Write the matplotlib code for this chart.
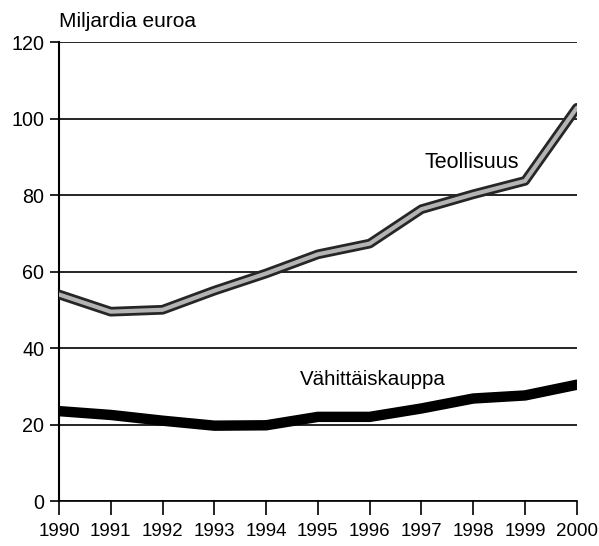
import matplotlib
matplotlib.use("Agg")
import matplotlib.pyplot as plt

years = [1990, 1991, 1992, 1993, 1994, 1995, 1996, 1997, 1998, 1999, 2000]
teollisuus = [54, 49.5, 50, 55, 59.5, 64.5, 67.3, 76.3, 80.2, 83.7, 102.8]
vahittais = [23.5, 22.5, 21, 19.7, 19.8, 22, 22, 24.2, 26.8, 27.6, 30.4]
yticks = [0, 20, 40, 60, 80, 100, 120]

plt.rcParams['font.family'] = ['Liberation Sans', 'DejaVu Sans']

fig = plt.figure(figsize=(5.99, 5.46), dpi=100)
ax = fig.add_axes([0.0985, 0.0824, 0.8645, 0.8406])

for y in yticks:
    ax.axhline(y, color='black', lw=1.2, zorder=1)

ax.plot(years, vahittais, color='black', lw=7.5, solid_capstyle='round', solid_joinstyle='round', zorder=3)
ax.plot(years, teollisuus, color='#262626', lw=7, solid_capstyle='round', solid_joinstyle='round', zorder=3)
ax.plot(years, teollisuus, color='#b4b4b4', lw=3, solid_capstyle='round', solid_joinstyle='round', zorder=4)

ax.text(1997.98, 88.4, 'Teollisuus', fontsize=15.5, ha='center', va='center')
ax.text(1996.07, 31.9, 'Vähittäiskauppa', fontsize=14.8, ha='center', va='center')
fig.text(0.0985, 0.9615, 'Miljardia euroa', fontsize=15, ha='left', va='center')

ax.set_xlim(1990, 2000)
ax.set_ylim(0, 120)
ax.set_xticks(years)
ax.set_xticklabels([str(y) for y in years], fontsize=13.5)
ax.set_yticks(yticks)
ax.set_yticklabels([str(y) for y in yticks], fontsize=14.2)
for s in ['top', 'right']:
    ax.spines[s].set_visible(False)
ax.spines['left'].set_linewidth(1.5)
ax.spines['bottom'].set_linewidth(1.2)
ax.tick_params(axis='x', direction='out', length=10, width=1.2, pad=6)
ax.tick_params(axis='y', direction='out', length=6.5, width=1.2, pad=4)

fig.savefig('out.png', dpi=100)
